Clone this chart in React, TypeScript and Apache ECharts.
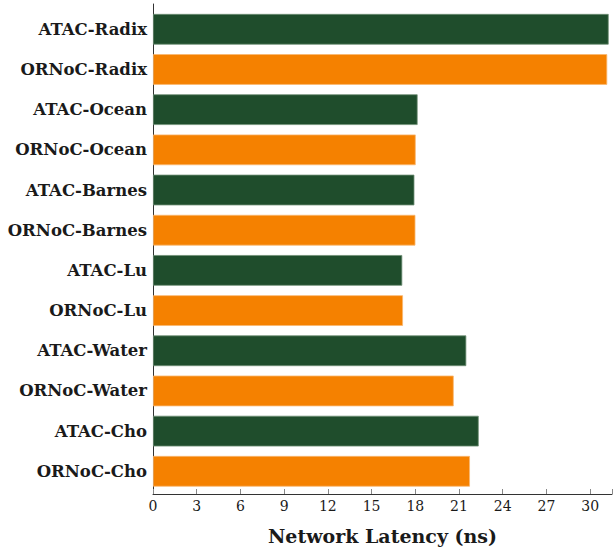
import React, { useEffect, useRef } from "react";
import * as echarts from "echarts";

const categories = [
  "ATAC-Radix",
  "ORNoC-Radix",
  "ATAC-Ocean",
  "ORNoC-Ocean",
  "ATAC-Barnes",
  "ORNoC-Barnes",
  "ATAC-Lu",
  "ORNoC-Lu",
  "ATAC-Water",
  "ORNoC-Water",
  "ATAC-Cho",
  "ORNoC-Cho",
];
const latency = [31.17, 31.07, 18.1, 17.97, 17.88, 17.95, 17.05, 17.1, 21.43, 20.57, 22.28, 21.68];
const xTicks = [0, 3, 6, 9, 12, 15, 18, 21, 24, 27, 30];
const xMax = 31.5;

const GREEN = "#1f4d2c";
const ORANGE = "#f58100";
const FONT = "DejaVu Serif";

export default function App() {
  const ref = useRef<HTMLDivElement>(null);
  useEffect(() => {
    if (!ref.current) return;
    const chart = echarts.init(ref.current, null, { renderer: "svg" });
    const tickStep = xTicks[1] - xTicks[0];
    chart.setOption({
      animation: false,
      backgroundColor: "#ffffff",
      grid: [
        { left: 153, right: 1.5, top: 4, bottom: 55 },
        { left: 153, right: 1.5, top: 9.2, bottom: 58.6 },
      ],
      xAxis: [
        {
          type: "value",
          gridIndex: 0,
          min: xTicks[0],
          max: xMax,
          interval: tickStep,
          axisLine: { show: true, lineStyle: { color: "#333", width: 1 } },
          axisTick: { show: true, inside: true, length: 5, lineStyle: { color: "#888", width: 1 } },
          splitLine: { show: false },
          axisLabel: {
            margin: 5,
            fontFamily: FONT,
            fontSize: 14,
            color: "#1a1a1a",
            formatter: (v: number) => (xTicks.includes(v) ? String(v) : ""),
          },
          name: "Network Latency (ns)",
          nameLocation: "middle",
          nameGap: 32,
          nameTextStyle: { fontFamily: FONT, fontSize: 19, fontWeight: "bold", color: "#1a1a1a" },
        },
        {
          type: "value",
          gridIndex: 1,
          min: xTicks[0],
          max: xMax,
          show: false,
        },
      ],
      yAxis: [
        {
          type: "value",
          gridIndex: 0,
          min: 0,
          max: 1,
          axisLine: { show: true, lineStyle: { color: "#333", width: 1 } },
          axisTick: { show: false },
          axisLabel: { show: false },
          splitLine: { show: false },
        },
        {
          type: "category",
          gridIndex: 1,
          data: categories,
          inverse: true,
          axisLine: { show: false },
          axisTick: { show: false },
          axisLabel: {
            margin: 6,
            fontFamily: FONT,
            fontSize: 16.5,
            fontWeight: "bold",
            color: "#1a1a1a",
          },
        },
      ],
      series: [
        {
          type: "bar",
          xAxisIndex: 1,
          yAxisIndex: 1,
          barWidth: 30.7,
          data: latency.map((v, i) => ({
            value: v,
            itemStyle: {
              color: categories[i].startsWith("ATAC") ? GREEN : ORANGE,
              borderColor: categories[i].startsWith("ATAC") ? "#6f8f75" : "#f9b870",
              borderWidth: 0.8,
            },
          })),
        },
      ],
    });
    return () => chart.dispose();
  }, []);
  return (
    <div
      ref={ref}
      style={{ position: "absolute", left: 0, top: 0, width: 615, height: 550 }}
    />
  );
}
